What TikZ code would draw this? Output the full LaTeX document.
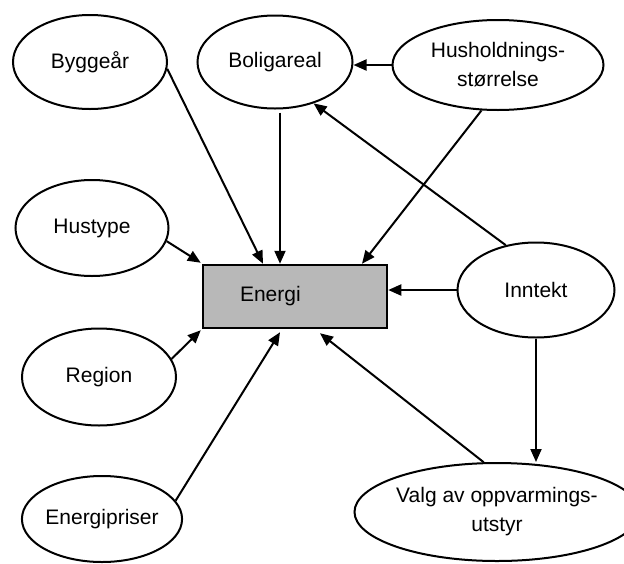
\documentclass[tikz,border=0pt]{standalone}
\usepackage{fontspec}
\setmainfont{Liberation Sans}
\usetikzlibrary{shapes.geometric,arrows.meta,calc}
\begin{document}
\begin{tikzpicture}[x=1pt,y=-1pt,
  ell/.style={draw, line width=2pt, ellipse, inner sep=0pt, align=center,
    font=\fontsize{21}{29}\selectfont},
  arr/.style={-{Triangle[length=13pt,width=11pt]}, line width=2pt},
  boxstyle/.style={draw, line width=2.5pt, fill=black!28, rectangle,
    minimum width=184pt, minimum height=63pt, inner xsep=37pt,
    text width=110pt, align=left, font=\fontsize{21}{24}\selectfont}]
\useasboundingbox (0,0) rectangle (624,563);
\node[ell, minimum width=154pt, minimum height=94pt] (bygg) at (90,62) {Byggeår};
\node[ell, minimum width=155pt, minimum height=93pt] (bolig) at (275,62) {Boligareal};
\node[ell, minimum width=211pt, minimum height=90pt] (hush) at (498,65) {Husholdnings-\\størrelse};
\node[ell, minimum width=153pt, minimum height=96pt] (hustype) at (92,228) {Hustype};
\node[boxstyle] (energi) at (295,296.5) {Energi};
\node[ell, minimum width=157pt, minimum height=95pt] (inntekt) at (536,290) {Inntekt};
\node[ell, minimum width=154pt, minimum height=97pt] (region) at (99,377) {Region};
\node[ell, minimum width=155pt, minimum height=86pt] (epris) at (102,519) {Energipriser};
\node[ell, minimum width=250pt, minimum height=98pt] (valg) at (497,512) {Valg av oppvarmings-\\utstyr};

\draw[arr] (bygg.-5) -- ($(energi.north)+(-32,0)$);
\draw[arr] ($(bolig.south)+(5,3)$) -- ($(energi.north)+(-15,0)$);
\draw[arr] (hush.west) -- (hush.west -| bolig.east);
\draw[arr] (hush.-110) -- ($(energi.north)+(67,0)$);
\draw[arr] (inntekt.124) -- (bolig.-47);
\draw[arr] (inntekt.west) -- (inntekt.west -| energi.east);
\draw[arr] (inntekt.south) -- (inntekt.south |- valg.north);
\draw[arr] (valg.105.6) -- ($(energi.south)+(25,4)$);
\draw[arr] (hustype.-10) -- ($(energi.north west)+(-1,-1)$);
\draw[arr] (region.14) -- ($(energi.south west)+(-1,1)$);
\draw[arr] (epris.14) -- ($(energi.south)+(-15,3)$);
\end{tikzpicture}
\end{document}
